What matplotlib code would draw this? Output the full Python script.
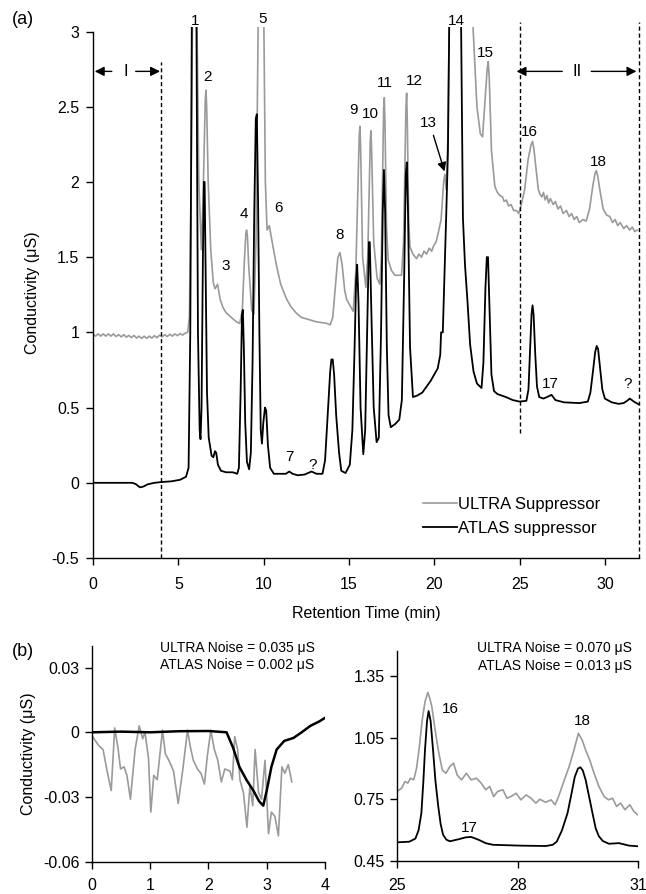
import numpy as np
import matplotlib
matplotlib.use("Agg")
import matplotlib.pyplot as plt

plt.rcParams['font.family'] = ['Liberation Sans', 'DejaVu Sans']
plt.rcParams['axes.unicode_minus'] = False
plt.rcParams['font.size'] = 11.5

GRAY = '#9a9a9a'

# ---- panel (a) traces: (time min, conductivity uS) ----
ultra_a = [(0, 0.99), (0.15, 0.975), (0.3, 0.99), (0.45, 0.975), (0.6, 0.99), (0.75, 0.975),
           (0.9, 0.99), (1.05, 0.975), (1.2, 0.99), (1.35, 0.972), (1.5, 0.985), (1.65, 0.97),
           (1.8, 0.985), (1.95, 0.968), (2.1, 0.98), (2.25, 0.965), (2.4, 0.98), (2.55, 0.962),
           (2.7, 0.975), (2.85, 0.96), (3.0, 0.975), (3.15, 0.96), (3.3, 0.975), (3.45, 0.962),
           (3.6, 0.978), (3.75, 0.965), (3.9, 0.982), (4.05, 0.97), (4.2, 0.985), (4.35, 0.972),
           (4.5, 0.988), (4.65, 0.975), (4.8, 0.99), (4.95, 0.978), (5.1, 0.992), (5.25, 0.982),
           (5.4, 0.995), (5.55, 1.0), (5.65, 1.1), (5.75, 2.0), (5.85, 3.4), (6.0, 4.0), (6.08, 3.2),
           (6.2, 2.0), (6.35, 1.55), (6.45, 1.9), (6.58, 2.55), (6.62, 2.61), (6.66, 2.5), (6.75, 2.0),
           (6.9, 1.55), (7.05, 1.33), (7.15, 1.29), (7.3, 1.32), (7.45, 1.22), (7.6, 1.17), (7.8, 1.13),
           (8.0, 1.11), (8.2, 1.09), (8.4, 1.07), (8.6, 1.06), (8.75, 1.15), (8.88, 1.5), (8.96, 1.66),
           (9.0, 1.68), (9.05, 1.64), (9.12, 1.45), (9.3, 1.15), (9.43, 1.12), (9.55, 1.6), (9.7, 3.3),
           (9.85, 4.5), (10.0, 3.2), (10.1, 2.0), (10.2, 1.68), (10.33, 1.71), (10.5, 1.6), (10.76, 1.44),
           (11.0, 1.32), (11.35, 1.22), (11.6, 1.17), (11.9, 1.13), (12.2, 1.1), (12.5, 1.09),
           (12.8, 1.08), (13.1, 1.07), (13.4, 1.065), (13.7, 1.06), (13.9, 1.05), (14.05, 1.1),
           (14.2, 1.3), (14.35, 1.5), (14.47, 1.53), (14.6, 1.45), (14.75, 1.28), (14.86, 1.22),
           (15.05, 1.18), (15.25, 1.14), (15.4, 1.4), (15.6, 2.3), (15.64, 2.37), (15.68, 2.25),
           (15.8, 1.5), (15.99, 1.30), (16.1, 1.5), (16.25, 2.28), (16.29, 2.34), (16.33, 2.2),
           (16.45, 1.6), (16.65, 1.36), (16.81, 1.32), (16.9, 1.5), (17.03, 2.48), (17.07, 2.56),
           (17.11, 2.4), (17.2, 1.7), (17.3, 1.48), (17.5, 1.41), (17.69, 1.38), (18.08, 1.38),
           (18.2, 1.6), (18.34, 2.5), (18.38, 2.59), (18.42, 2.4), (18.5, 1.75), (18.57, 1.57),
           (18.75, 1.52), (18.96, 1.49), (19.1, 1.52), (19.25, 1.5), (19.4, 1.54), (19.55, 1.52),
           (19.7, 1.56), (19.85, 1.54), (19.94, 1.57), (20.1, 1.6), (20.23, 1.66), (20.4, 1.75),
           (20.55, 2.0), (20.62, 2.05), (20.7, 1.95), (20.8, 2.3), (20.9, 3.3), (21.5, 5.5),
           (22.28, 3.01), (22.5, 2.5), (22.7, 2.32), (22.83, 2.30), (22.95, 2.5), (23.1, 2.75),
           (23.16, 2.80), (23.22, 2.7), (23.35, 2.21), (23.55, 1.97), (23.7, 1.93), (23.84, 1.91),
           (24.0, 1.9), (24.1, 1.87), (24.23, 1.88), (24.35, 1.84), (24.5, 1.85), (24.65, 1.81),
           (24.82, 1.81), (24.95, 1.79), (25.1, 1.85), (25.3, 1.95), (25.5, 2.15), (25.68, 2.25),
           (25.76, 2.27), (25.84, 2.22), (25.95, 2.1), (26.1, 1.95), (26.19, 1.92), (26.3, 1.9),
           (26.4, 1.93), (26.5, 1.88), (26.6, 1.91), (26.7, 1.86), (26.8, 1.89), (26.97, 1.85),
           (27.1, 1.87), (27.25, 1.82), (27.4, 1.84), (27.55, 1.79), (27.75, 1.81), (27.9, 1.77),
           (28.05, 1.79), (28.2, 1.75), (28.35, 1.77), (28.5, 1.73), (28.72, 1.75), (28.9, 1.74),
           (29.1, 1.82), (29.3, 1.98), (29.43, 2.06), (29.5, 2.075), (29.58, 2.04), (29.7, 1.95),
           (29.9, 1.82), (30.1, 1.78), (30.29, 1.77), (30.45, 1.73), (30.6, 1.75), (30.75, 1.71),
           (30.9, 1.73), (31.1, 1.69), (31.27, 1.71), (31.45, 1.68), (31.6, 1.70), (31.75, 1.67),
           (31.89, 1.68)]

atlas_a = [(0, 0), (2.3, 0), (2.5, -0.008), (2.75, -0.03), (2.95, -0.025), (3.2, -0.01), (3.6, 0.0),
           (4.0, 0.005), (4.6, 0.01), (5.1, 0.02), (5.45, 0.04), (5.6, 0.1), (5.7, 1.0), (5.8, 3.3),
           (5.92, 4.5), (6.05, 3.3), (6.15, 1.0), (6.25, 0.35), (6.3, 0.29), (6.36, 0.5), (6.44, 1.5),
           (6.5, 2.0), (6.54, 2.0), (6.6, 1.4), (6.68, 0.6), (6.78, 0.3), (6.95, 0.18), (7.05, 0.17),
           (7.15, 0.21), (7.22, 0.2), (7.32, 0.12), (7.5, 0.08), (7.8, 0.07), (8.2, 0.07), (8.45, 0.06),
           (8.55, 0.1), (8.65, 0.6), (8.73, 1.12), (8.78, 1.15), (8.84, 0.9), (8.92, 0.4), (9.02, 0.14),
           (9.15, 0.09), (9.25, 0.2), (9.35, 0.8), (9.45, 1.8), (9.54, 2.42), (9.6, 2.45), (9.67, 1.9),
           (9.75, 1.0), (9.83, 0.35), (9.9, 0.26), (9.98, 0.4), (10.08, 0.5), (10.15, 0.48),
           (10.25, 0.25), (10.38, 0.1), (10.6, 0.06), (11.0, 0.06), (11.3, 0.06), (11.5, 0.075),
           (11.7, 0.06), (12.0, 0.05), (12.4, 0.055), (12.8, 0.075), (13.1, 0.06), (13.45, 0.06),
           (13.6, 0.15), (13.75, 0.45), (13.9, 0.74), (13.97, 0.82), (14.05, 0.82), (14.13, 0.72),
           (14.25, 0.45), (14.42, 0.2), (14.55, 0.08), (14.8, 0.065), (15.05, 0.12), (15.2, 0.35),
           (15.33, 0.9), (15.42, 1.35), (15.48, 1.45), (15.56, 1.2), (15.68, 0.5), (15.84, 0.19),
           (15.95, 0.35), (16.08, 1.1), (16.17, 1.6), (16.22, 1.6), (16.32, 1.1), (16.45, 0.5),
           (16.62, 0.27), (16.75, 0.3), (16.88, 1.0), (16.98, 1.8), (17.05, 2.08), (17.12, 1.8),
           (17.22, 0.9), (17.32, 0.45), (17.45, 0.37), (17.7, 0.39), (17.95, 0.42), (18.1, 0.55),
           (18.24, 1.4), (18.33, 2.05), (18.39, 2.13), (18.46, 1.8), (18.58, 0.9), (18.75, 0.57),
           (19.0, 0.58), (19.3, 0.6), (19.55, 0.64), (19.8, 0.68), (20.0, 0.72), (20.2, 0.76),
           (20.35, 0.85), (20.4, 1.0), (20.5, 1.0), (20.7, 1.78), (20.8, 2.2), (20.9, 3.3),
           (21.2, 5.0), (21.55, 3.3), (21.68, 1.76), (21.8, 1.45), (21.95, 1.2), (22.1, 0.92),
           (22.3, 0.74), (22.5, 0.66), (22.77, 0.63), (22.88, 0.8), (23.0, 1.3), (23.08, 1.5),
           (23.15, 1.5), (23.25, 1.1), (23.35, 0.72), (23.5, 0.61), (23.7, 0.59), (24.2, 0.57),
           (24.6, 0.55), (25.0, 0.54), (25.4, 0.545), (25.52, 0.62), (25.62, 0.9), (25.7, 1.12),
           (25.76, 1.18), (25.82, 1.12), (25.92, 0.85), (26.02, 0.64), (26.15, 0.57), (26.4, 0.56),
           (26.7, 0.575), (26.87, 0.585), (27.1, 0.55), (27.6, 0.535), (28.5, 0.53), (29.0, 0.54),
           (29.15, 0.6), (29.3, 0.74), (29.43, 0.87), (29.52, 0.91), (29.6, 0.89), (29.72, 0.76),
           (29.85, 0.62), (30.0, 0.56), (30.4, 0.535), (30.8, 0.525), (31.1, 0.53), (31.3, 0.545),
           (31.46, 0.56), (31.7, 0.54), (32.0, 0.52)]

peak_labels_a = [('1', 6.01, 3.07), ('2', 6.7, 2.70), ('3', 7.79, 1.44), ('4', 8.87, 1.79),
                 ('5', 9.92, 3.08), ('6', 10.86, 1.83), ('7', 11.54, 0.17), ('?', 12.87, 0.12),
                 ('8', 14.47, 1.65), ('9', 15.25, 2.48), ('10', 16.27, 2.45), ('11', 17.11, 2.66),
                 ('12', 18.86, 2.67), ('13', 19.64, 2.39), ('14', 21.27, 3.07), ('15', 23.0, 2.86),
                 ('16', 25.56, 2.33), ('18', 29.6, 2.135), ('17', 26.83, 0.66), ('?', 31.36, 0.66)]

# ---- panel (b) left: 0-4 min noise ----
ultra_b1 = [(0.01, -0.002), (0.11, -0.006), (0.19, -0.008), (0.26, -0.018), (0.33, -0.027),
            (0.39, 0.002), (0.45, -0.008), (0.49, -0.017), (0.55, -0.016), (0.60, -0.020),
            (0.66, -0.031), (0.74, -0.008), (0.81, 0.003), (0.87, -0.003), (0.91, 0.0),
            (0.97, -0.012), (1.01, -0.037), (1.06, -0.020), (1.12, -0.022), (1.21, 0.001),
            (1.26, -0.010), (1.32, -0.013), (1.40, -0.018), (1.48, -0.033), (1.56, -0.017),
            (1.64, 0.001), (1.69, -0.007), (1.74, -0.013), (1.81, -0.017), (1.87, -0.019),
            (1.93, -0.024), (1.98, -0.011), (2.04, 0.001), (2.10, -0.008), (2.16, -0.013),
            (2.22, -0.023), (2.28, -0.017), (2.37, -0.018), (2.41, -0.022), (2.45, -0.002),
            (2.50, -0.008), (2.54, -0.022), (2.60, -0.028), (2.66, -0.044), (2.71, -0.025),
            (2.76, -0.034), (2.80, -0.008), (2.86, -0.028), (2.91, -0.031), (2.97, -0.013),
            (3.03, -0.047), (3.08, -0.037), (3.14, -0.039), (3.20, -0.048), (3.26, -0.016),
            (3.31, -0.019), (3.37, -0.015), (3.43, -0.023)]
atlas_b1 = [(0, 0), (0.5, 0.0003), (1.0, 0.0), (1.5, 0.0005), (2.0, 0.0006), (2.31, 0.0),
            (2.42, -0.007), (2.53, -0.016), (2.65, -0.022), (2.77, -0.027), (2.87, -0.032),
            (2.94, -0.034), (3.0, -0.027), (3.08, -0.016), (3.17, -0.008), (3.3, -0.004),
            (3.46, -0.0026), (3.6, 0.0), (3.75, 0.003), (3.9, 0.005), (4.0, 0.0067)]

# ---- panel (b) right: 25-31 min ----
ultra_b2 = [(25.00, 0.789), (25.11, 0.805), (25.19, 0.837), (25.26, 0.829), (25.33, 0.853),
            (25.41, 0.845), (25.48, 0.902), (25.55, 1.006), (25.62, 1.135), (25.69, 1.224),
            (25.76, 1.269), (25.81, 1.240), (25.86, 1.20), (25.93, 1.103), (26.02, 0.99),
            (26.12, 0.893), (26.21, 0.877), (26.31, 0.91), (26.40, 0.926), (26.49, 0.869),
            (26.60, 0.845), (26.72, 0.877), (26.84, 0.845), (26.97, 0.853), (27.09, 0.829),
            (27.20, 0.797), (27.30, 0.813), (27.40, 0.764), (27.50, 0.789), (27.63, 0.797),
            (27.73, 0.756), (27.83, 0.764), (27.96, 0.780), (28.08, 0.748), (28.21, 0.772),
            (28.33, 0.756), (28.45, 0.732), (28.55, 0.751), (28.69, 0.736), (28.83, 0.748),
            (28.93, 0.724), (29.03, 0.772), (29.16, 0.845), (29.28, 0.91), (29.40, 0.99),
            (29.51, 1.071), (29.60, 1.039), (29.69, 0.99), (29.79, 0.942), (29.90, 0.877),
            (30.02, 0.813), (30.15, 0.764), (30.26, 0.748), (30.36, 0.756), (30.46, 0.716),
            (30.56, 0.732), (30.67, 0.70), (30.79, 0.724), (30.89, 0.692), (30.98, 0.676)]
atlas_b2 = [(25.0, 0.542), (25.3, 0.545), (25.45, 0.56), (25.53, 0.6), (25.60, 0.684),
            (25.65, 0.84), (25.69, 0.99), (25.74, 1.13), (25.78, 1.179), (25.83, 1.13),
            (25.89, 0.99), (25.95, 0.84), (26.02, 0.716), (26.08, 0.63), (26.14, 0.579),
            (26.22, 0.555), (26.31, 0.547), (26.55, 0.558), (26.7, 0.566), (26.84, 0.568),
            (26.95, 0.56), (27.05, 0.552), (27.2, 0.538), (27.38, 0.53), (28.04, 0.526),
            (28.7, 0.524), (28.87, 0.53), (28.97, 0.545), (29.1, 0.6), (29.24, 0.684),
            (29.34, 0.78), (29.42, 0.86), (29.5, 0.9), (29.56, 0.906), (29.62, 0.89),
            (29.69, 0.845), (29.78, 0.76), (29.86, 0.684), (29.94, 0.61), (30.02, 0.571),
            (30.12, 0.548), (30.27, 0.535), (30.52, 0.538), (30.77, 0.526), (30.98, 0.523)]
peak_labels_b2 = [('16', 26.32, 1.19), ('17', 26.79, 0.61), ('18', 29.61, 1.13)]


def xy(pts):
    a = np.array(pts, dtype=float)
    return a[:, 0], a[:, 1]


def style_axes(ax):
    for s in ['top', 'right']:
        ax.spines[s].set_visible(False)
    for s in ['left', 'bottom']:
        ax.spines[s].set_linewidth(1.0)
    ax.tick_params(direction='out', length=5, width=1.0, labelsize=11.5)


fig = plt.figure(figsize=(6.46, 8.94), dpi=100)

# ================= panel (a) =================
ax = fig.add_axes([0.144, 0.3758, 0.8452, 0.594])
t, v = xy(ultra_a)
ax.plot(t, v, color=GRAY, lw=1.2, label='ULTRA Suppressor')
t, v = xy(atlas_a)
ax.plot(t, v, color='black', lw=1.3, label='ATLAS suppressor')
ax.set_xlim(0, 32)
ax.set_ylim(-0.5, 3.03)
style_axes(ax)
ax.spines['left'].set_bounds(-0.5, 3)
ax.set_xticks([0, 5, 10, 15, 20, 25, 30])
ax.set_yticks([-0.5, 0, 0.5, 1, 1.5, 2, 2.5, 3])
ax.set_yticklabels(['-0.5', '0', '0.5', '1', '1.5', '2', '2.5', '3'])
ax.tick_params(axis='x', pad=9)
ax.tick_params(axis='y', pad=5)
ax.set_xlabel('Retention Time (min)', labelpad=10)
ax.set_ylabel('Conductivity (μS)', labelpad=8)

# region markers
ax.plot([4, 4], [-0.5, 2.8], ls=(0, (3, 2)), color='black', lw=1.0)
ax.plot([25, 25], [0.33, 3.06], ls=(0, (3, 2)), color='black', lw=1.0, clip_on=False)
ax.plot([32, 32], [-0.5, 3.06], ls=(0, (3, 2)), color='black', lw=1.0, clip_on=False)
arr = dict(arrowstyle='-|>', color='black', lw=1.0, mutation_scale=14, shrinkA=0, shrinkB=0)
ax.annotate('', xy=(0.1, 2.735), xytext=(1.1, 2.735), arrowprops=arr)
ax.annotate('', xy=(3.93, 2.735), xytext=(2.5, 2.735), arrowprops=arr)
ax.text(1.93, 2.735, 'I', ha='center', va='center', fontsize=12)
ax.annotate('', xy=(24.82, 2.735), xytext=(27.5, 2.735), arrowprops=arr)
ax.annotate('', xy=(31.85, 2.735), xytext=(29.2, 2.735), arrowprops=arr)
ax.text(28.35, 2.735, 'II', ha='center', va='center', fontsize=12)

for lab, px, py in peak_labels_a:
    ax.text(px, py, lab, ha='center', va='center', fontsize=11, clip_on=False)
ax.annotate('', xy=(20.6, 2.07), xytext=(19.95, 2.31),
            arrowprops=dict(arrowstyle='-|>', color='black', lw=1.0, mutation_scale=13,
                            shrinkA=0, shrinkB=0))

ax.legend(loc='lower right', bbox_to_anchor=(0.945, 0.026), frameon=False,
          handlelength=2.0, handletextpad=0.1, labelspacing=0.55, borderpad=0,
          fontsize=12)

fig.text(0.018, 0.978, '(a)', fontsize=13, va='center')
fig.text(0.018, 0.271, '(b)', fontsize=13, va='center')

# ================= panel (b) left =================
bx = fig.add_axes([0.1424, 0.0361, 0.3607, 0.2413])
t, v = xy(ultra_b1)
bx.plot(t, v, color=GRAY, lw=1.2)
t, v = xy(atlas_b1)
bx.plot(t, v, color='black', lw=1.8)
bx.set_xlim(0, 4)
bx.set_ylim(-0.06, 0.04)
style_axes(bx)
bx.set_xticks([0, 1, 2, 3, 4])
bx.set_yticks([-0.06, -0.03, 0, 0.03])
bx.set_yticklabels(['-0.06', '-0.03', '0', '0.03'])
bx.tick_params(axis='x', pad=7)
bx.tick_params(axis='y', pad=4)
bx.set_ylabel('Conductivity (μS)', labelpad=5)
bx.text(0.624, 0.992, 'ULTRA Noise = 0.035 μS', transform=bx.transAxes, ha='center', va='center', fontsize=10)
bx.text(0.624, 0.91, 'ATLAS Noise = 0.002 μS', transform=bx.transAxes, ha='center', va='center', fontsize=10)

# ================= panel (b) right =================
cx = fig.add_axes([0.615, 0.0366, 0.373, 0.2352])
t, v = xy(ultra_b2)
cx.plot(t, v, color=GRAY, lw=1.2)
t, v = xy(atlas_b2)
cx.plot(t, v, color='black', lw=1.3)
cx.set_xlim(25, 31)
cx.set_ylim(0.45, 1.47)
style_axes(cx)
cx.set_xticks([25, 28, 31])
cx.set_yticks([0.45, 0.75, 1.05, 1.35])
cx.set_yticklabels(['0.45', '0.75', '1.05', '1.35'])
cx.tick_params(axis='x', pad=7)
cx.tick_params(axis='y', pad=4)
for lab, px, py in peak_labels_b2:
    cx.text(px, py, lab, ha='center', va='center', fontsize=11)
cx.text(0.654, 1.014, 'ULTRA Noise = 0.070 μS', transform=cx.transAxes, ha='center', va='center', fontsize=10)
cx.text(0.654, 0.93, 'ATLAS Noise = 0.013 μS', transform=cx.transAxes, ha='center', va='center', fontsize=10)

fig.savefig('out.png', dpi=100)
